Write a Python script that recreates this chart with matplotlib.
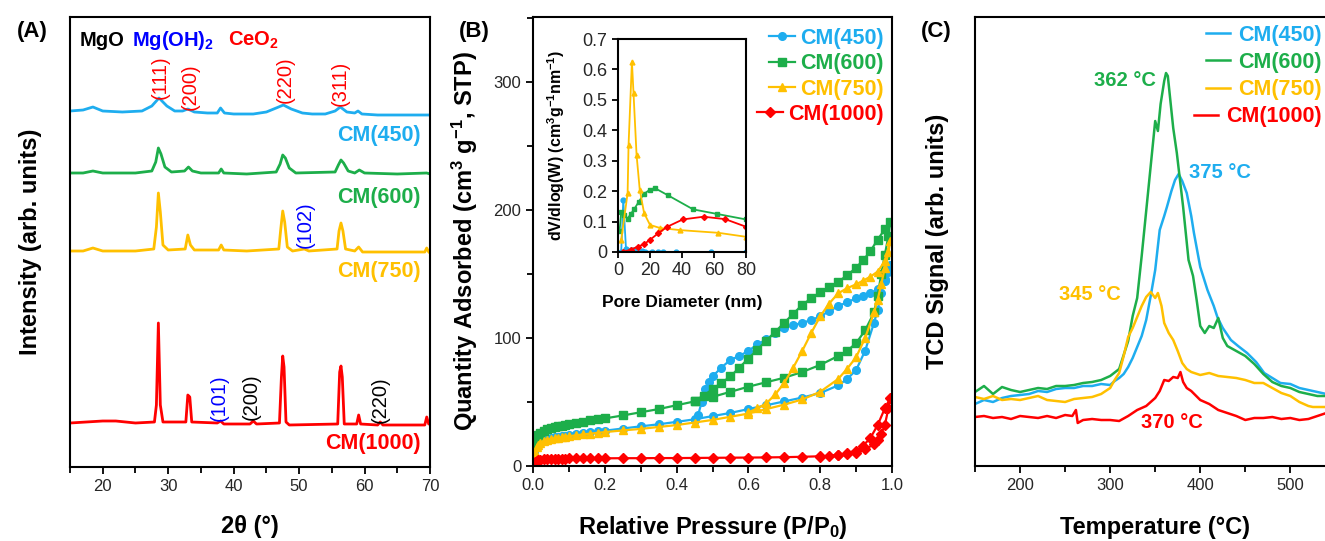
import matplotlib
matplotlib.use("Agg")
import matplotlib.pyplot as plt
from matplotlib.ticker import MultipleLocator, FuncFormatter

plt.rcParams['font.family'] = ['Liberation Sans', 'DejaVu Sans']
plt.rcParams['mathtext.fontset'] = 'custom'
plt.rcParams['mathtext.rm'] = 'Liberation Sans:bold'
plt.rcParams['mathtext.it'] = 'Liberation Sans:bold'
plt.rcParams['mathtext.bf'] = 'Liberation Sans:bold'
plt.rcParams['mathtext.default'] = 'rm'

C_BLUE = '#1EADEF'
C_GREEN = '#1DAE4A'
C_YEL = '#FFC000'
C_RED = '#FF0000'
TICKC = '#262626'

labels = ['CM(450)', 'CM(600)', 'CM(750)', 'CM(1000)']

# ---------------- Panel A: XRD ----------------
xrd450_x = [15, 17, 18.5, 20, 23, 26, 27.5, 28.6, 29.8, 31, 32.2, 33, 34, 36, 37.5, 38, 38.6, 40, 43, 45,
            46.5, 47.6, 48.8, 50.5, 52, 54, 55.5, 56.3, 57.3, 58.5, 59, 59.6, 62, 66, 70]
xrd450_y = [356, 357, 360, 356, 355, 356, 361, 369, 361, 356, 356, 358, 355, 354, 354, 359, 354, 353, 353, 355,
            359, 362, 358, 354, 353, 353, 356, 360, 355, 354, 356, 353, 352, 352, 352]
xrd600_x = [15, 17, 18.5, 20, 25, 27.5, 28.1, 28.5, 28.9, 29.5, 30.5, 32.5, 33.1, 33.7, 35, 37.7, 38.1, 38.5,
            42, 46.5, 47.1, 47.5, 47.9, 48.5, 49.5, 55.5, 56.0, 56.4, 56.8, 57.5, 58.5, 59.2, 60, 65, 69.5, 70]
xrd600_y = [294, 294, 296, 294, 294, 296, 305, 319, 313, 300, 295, 296, 300, 296, 294, 294, 298, 294,
            293, 295, 303, 312, 309, 299, 294, 295, 302, 307, 304, 296, 294, 297, 294, 293, 294, 293]
xrd750_x = [15, 17, 18.5, 20, 25, 27.8, 28.2, 28.5, 28.8, 29.2, 30, 32.6, 33.0, 33.4, 34, 37.7, 38.1, 38.5,
            42, 46.9, 47.2, 47.5, 47.8, 48.2, 49, 50.8, 51.5, 55.8, 56.1, 56.4, 56.7, 57.1, 58.5, 59.1, 59.7,
            65, 69.2, 69.5, 69.8, 70]
xrd750_y = [216, 216, 219, 216, 216, 218, 240, 274, 255, 222, 217, 218, 232, 222, 217, 217, 222, 217,
            216, 218, 238, 256, 245, 220, 216, 218, 216, 218, 236, 244, 236, 218, 216, 220, 215,
            215, 215, 219, 215, 214]
xrd1000_x = [15, 20, 22, 25, 27.9, 28.2, 28.5, 28.8, 29.2, 32.7, 33.0, 33.3, 33.6, 37.5, 38, 38.5, 42.5, 43,
             43.5, 47.0, 47.3, 47.5, 47.7, 48.0, 48.5, 55.9, 56.2, 56.4, 56.6, 56.9, 58.8, 59.1, 59.4, 62.0,
             62.4, 62.8, 69.2, 69.5, 69.8, 70]
xrd1000_y = [44, 46, 46, 44, 45, 62, 144, 62, 45, 45, 72, 70, 45, 44, 46, 43, 43, 46,
             43, 44, 90, 111, 100, 45, 42, 43, 95, 101, 90, 43, 43, 52, 43, 42,
             45, 42, 42, 50, 43, 43]

# ---------------- Panel B: isotherms ----------------
p_ads = [0.002, 0.005, 0.01, 0.015, 0.02, 0.03, 0.04, 0.05, 0.06, 0.07, 0.08, 0.09, 0.10, 0.12, 0.14, 0.16,
         0.18, 0.20, 0.25, 0.30, 0.35, 0.40, 0.45, 0.50, 0.55, 0.60, 0.65, 0.70, 0.75, 0.80, 0.85, 0.875,
         0.90, 0.925, 0.95, 0.96, 0.97, 0.98, 0.99, 0.995]
q450_ads = [10, 13, 16, 17.5, 19, 20.5, 21.3, 22, 22.5, 23, 23.4, 23.8, 24.2, 25, 25.7, 26.4, 27, 27.6, 29.3,
            31, 32.6, 34.5, 36.5, 39, 41.5, 44.5, 47.5, 50.5, 53.5, 57, 63, 68, 75, 90, 112, 122, 135, 146, 152, 157]
q600_ads = [17, 20, 23, 24.5, 26, 27.5, 28.7, 29.6, 30.3, 31, 31.6, 32.2, 32.8, 33.8, 34.7, 35.6, 36.4, 37.2,
            39.5, 42, 44.5, 47.5, 50.5, 54, 58, 62, 65.5, 69, 73.5, 79, 86, 90, 96, 106, 120, 133, 150, 165, 180, 191]
q750_ads = [7, 11, 15, 16.5, 18, 19.5, 20.3, 21, 21.6, 22.1, 22.5, 22.9, 23.3, 24, 24.7, 25.3, 25.9, 26.5,
            27.8, 29, 30.5, 32, 34, 36, 38.5, 41, 44.5, 48, 52, 58, 68, 76, 85, 100, 120, 130, 142, 155, 167, 176]
q1000_ads = [1.5, 3, 4, 4.5, 5, 5.2, 5.4, 5.5, 5.6, 5.7, 5.8, 5.8, 5.9, 5.9, 6, 6, 6, 6, 6.1, 6.1, 6.2, 6.2,
             6.3, 6.4, 6.5, 6.6, 6.7, 6.9, 7.2, 7.6, 8.3, 9, 10.5, 13, 17, 20, 25, 32, 45, 53]

p450_des = [0.98, 0.96, 0.94, 0.92, 0.90, 0.875, 0.85, 0.825, 0.80, 0.775, 0.75, 0.725, 0.70, 0.675, 0.65,
            0.625, 0.60, 0.575, 0.55, 0.525, 0.50, 0.49, 0.48, 0.47, 0.46, 0.45]
q450_des = [145, 138, 135, 133, 131, 128, 125, 121, 117, 114, 112, 110, 108, 104, 99, 95, 90, 86, 83, 77, 70,
            66, 60, 50, 40, 36]
p600_des = [0.98, 0.96, 0.94, 0.92, 0.90, 0.875, 0.85, 0.825, 0.80, 0.775, 0.75, 0.725, 0.70, 0.675, 0.65,
            0.625, 0.60, 0.575, 0.55, 0.525, 0.50, 0.475, 0.45]
q600_des = [185, 177, 168, 161, 155, 149, 144, 140, 136, 131, 126, 119, 112, 105, 98, 91, 84, 77, 70, 65, 60, 55, 51]
p750_des = [0.98, 0.96, 0.94, 0.92, 0.90, 0.875, 0.85, 0.825, 0.80, 0.775, 0.75, 0.725, 0.70, 0.675, 0.65,
            0.625, 0.60]
q750_des = [160, 152, 148, 145, 142, 139, 135, 127, 117, 104, 90, 77, 65, 56, 49, 45, 42]
p1000_des = [0.98, 0.96, 0.94, 0.92, 0.90, 0.875, 0.85, 0.825, 0.80]
q1000_des = [45, 32, 22, 16, 12, 10, 8.5, 7.5, 7]

# ---------------- Inset: pore size distribution ----------------
d450 = [2, 3.3, 5, 8, 10, 12, 15, 17, 21, 25, 28, 36, 58, 80]
v450 = [0.0, 0.171, 0.01, 0.007, 0.005, 0.003, 0.002, 0.001, 0.001, 0.0, 0.0, 0.0, 0.0, 0.0]
d600 = [1, 2, 4, 6, 8, 10, 13, 16, 20, 23, 31, 47, 62, 80]
v600 = [0.07, 0.13, 0.12, 0.11, 0.125, 0.14, 0.165, 0.19, 0.205, 0.21, 0.187, 0.14, 0.125, 0.107]
d750 = [2, 6.0, 6.6, 8.7, 9.7, 11.6, 13.6, 16.3, 20, 26.2, 38.6, 62.8, 80]
v750 = [0.04, 0.193, 0.352, 0.626, 0.522, 0.319, 0.204, 0.128, 0.089, 0.079, 0.072, 0.063, 0.050]
d1000 = [3, 8, 12.2, 16.3, 20, 25, 30.8, 40.5, 53.5, 67, 80]
v1000 = [0.0, 0.008, 0.017, 0.026, 0.04, 0.061, 0.083, 0.107, 0.116, 0.108, 0.083]

# ---------------- Panel C: TPR ----------------
T_g = [150, 160, 170, 180, 190, 200, 210, 220, 230, 240, 250, 260, 270, 280, 290, 300, 310, 320, 325, 330,
       335, 340, 345, 350, 353, 356, 360, 362, 364, 370, 374, 381, 387, 392, 396, 400, 405, 410, 415, 420,
       425, 430, 440, 450, 460, 470, 480, 490, 500, 510, 520, 530, 540, 550]
h_g = [74, 80, 72, 79, 76, 74, 76, 78, 77, 80, 80, 81, 83, 84, 86, 90, 97, 125, 150, 168,
       210, 255, 300, 345, 335, 362, 385, 393, 390, 338, 313, 259, 206, 190, 166, 140, 133, 140, 138, 148,
       128, 120, 115, 110, 102, 92, 84, 80, 78, 74, 72, 70, 70, 68]
T_b = [150, 160, 170, 180, 190, 200, 210, 220, 230, 240, 250, 260, 270, 280, 290, 300, 305, 310, 315, 320,
       325, 330, 335, 340, 345, 350, 355, 360, 363, 368, 372, 376, 380, 385, 390, 393, 400, 408, 415, 419,
       425, 434, 442, 452, 462, 471, 480, 489, 500, 510, 520, 530, 540, 550]
h_b = [62, 66, 64, 68, 70, 71, 72, 75, 74, 77, 78, 78, 80, 80, 82, 81, 85, 88, 92, 99,
       108, 119, 130, 146, 170, 196, 236, 250, 259, 275, 286, 292, 285, 273, 250, 233, 199, 176, 160, 149,
       138, 126, 120, 113, 104, 93, 88, 83, 82, 78, 76, 74, 72, 72]
T_y = [150, 160, 170, 180, 190, 200, 210, 220, 230, 240, 250, 260, 270, 280, 290, 300, 305, 310, 315, 320,
       325, 330, 335, 340, 345, 350, 353, 357, 360, 365, 370, 375, 380, 385, 390, 400, 410, 420, 430, 440,
       450, 460, 470, 480, 490, 500, 510, 520, 525, 530, 540, 550]
h_y = [69, 67, 70, 66, 67, 66, 68, 70, 66, 65, 64, 67, 68, 69, 72, 78, 86, 93, 110, 129,
       138, 149, 160, 169, 174, 168, 173, 160, 143, 133, 126, 115, 103, 97, 94, 91, 93, 90, 89, 88,
       86, 83, 83, 78, 73, 70, 64, 60, 59, 59, 59, 58]
T_r = [150, 160, 170, 180, 190, 200, 210, 220, 230, 240, 250, 258, 262, 264, 270, 280, 290, 300, 310, 320,
       330, 340, 350, 355, 360, 365, 370, 375, 378, 381, 385, 390, 400, 410, 420, 430, 440, 450, 460, 470,
       480, 490, 500, 510, 520, 530, 540, 550]
h_r = [49, 50, 48, 49, 47, 50, 49, 48, 50, 48, 51, 50, 56, 43, 46, 47, 46, 46, 45, 50,
       56, 60, 68, 75, 86, 85, 89, 88, 94, 84, 78, 75, 66, 62, 56, 53, 50, 46, 48, 48,
       49, 47, 48, 46, 47, 50, 53, 52]

W, H = 1325, 541
fig = plt.figure(figsize=(W / 100, H / 100), dpi=100)


def box(l, t, r, b):
    return [l / W, 1 - b / H, (r - l) / W, (b - t) / H]


def style(ax, fs=12):
    for s in ax.spines.values():
        s.set_linewidth(1.5)
        s.set_color('black')
    ax.tick_params(which='both', direction='out', colors='black', labelcolor=TICKC,
                   labelsize=fs, width=1.3)
    ax.tick_params(which='major', length=5)
    ax.tick_params(which='minor', length=4)


def right_align(leg):
    try:
        for col in leg._legend_handle_box.get_children():
            col.align = 'right'
    except Exception:
        pass


LBL = dict(fontsize=17, fontweight='bold')

# ---- A ----
axA = fig.add_axes(box(70, 17, 430, 467))
style(axA)
axA.plot(xrd450_x, xrd450_y, color=C_BLUE, lw=2)
axA.plot(xrd600_x, xrd600_y, color=C_GREEN, lw=2)
axA.plot(xrd750_x, xrd750_y, color=C_YEL, lw=2)
axA.plot(xrd1000_x, xrd1000_y, color=C_RED, lw=2)
axA.set_xlim(15, 70)
axA.set_ylim(0, 450)
axA.set_yticks([])
axA.set_xticks([20, 30, 40, 50, 60, 70])
axA.xaxis.set_minor_locator(MultipleLocator(5))
axA.set_xlabel('2θ (°)', va='center', **LBL)
axA.xaxis.set_label_coords(0.5, -0.133)
axA.set_ylabel('Intensity (arb. units)', va='center', **LBL)
axA.yaxis.set_label_coords(-0.111, 0.5)

hdr = dict(fontsize=14.5, fontweight='bold', va='center', ha='left')
axA.text(16.4, 427, 'MgO', color='black', **hdr)
axA.text(24.5, 427, r'Mg(OH)$_2$', color='#0000FF', **hdr)
axA.text(39.1, 427, r'CeO$_2$', color='#FF0000', **hdr)
hkl = dict(fontsize=14.5, rotation=90, ha='center', va='center')
axA.text(28.8, 390, '(111)', color='#FF0000', **hkl)
axA.text(33.4, 380, '(200)', color='#FF0000', **hkl)
axA.text(47.9, 387, '(220)', color='#FF0000', **hkl)
axA.text(56.3, 384, '(311)', color='#FF0000', **hkl)
axA.text(50.9, 242, '(102)', color='#0000FF', **hkl)
axA.text(37.8, 69, '(101)', color='#0000FF', **hkl)
axA.text(42.7, 70, '(200)', color='black', **hkl)
axA.text(62.4, 67, '(220)', color='black', **hkl)
smp = dict(fontsize=15.5, fontweight='bold', ha='right', va='center')
axA.text(68.6, 332, labels[0], color=C_BLUE, **smp)
axA.text(68.6, 270, labels[1], color=C_GREEN, **smp)
axA.text(68.6, 196, labels[2], color=C_YEL, **smp)
axA.text(68.6, 24, labels[3], color=C_RED, **smp)

# ---- B ----
axB = fig.add_axes(box(533, 17, 892, 466))
style(axB)
mk = dict(lw=1.6, markersize=5.5)
axB.plot(p_ads + p450_des, q450_ads + q450_des, color=C_BLUE, marker='o', label=labels[0], **mk)
axB.plot(p_ads + p600_des, q600_ads + q600_des, color=C_GREEN, marker='s', label=labels[1], **mk)
axB.plot(p_ads + p750_des, q750_ads + q750_des, color=C_YEL, marker='^', label=labels[2], **mk)
axB.plot(p_ads + p1000_des, q1000_ads + q1000_des, color=C_RED, marker='D', label=labels[3],
         lw=1.6, markersize=4.8)
axB.set_xlim(0, 1.0)
axB.set_ylim(0, 351)
axB.set_xticks([0.0, 0.2, 0.4, 0.6, 0.8, 1.0])
axB.xaxis.set_minor_locator(MultipleLocator(0.1))
axB.set_yticks([0, 100, 200, 300])
axB.yaxis.set_minor_locator(MultipleLocator(50))
axB.xaxis.set_major_formatter(FuncFormatter(lambda v, p: f'{v:.1f}'))
axB.set_xlabel(r'Relative Pressure (P/P$_0$)', va='center', **LBL)
axB.xaxis.set_label_coords(0.5, -0.136)
axB.set_ylabel(r'Quantity Adsorbed (cm$^3$ g$^{-1}$, STP)', va='center', **LBL)
axB.yaxis.set_label_coords(-0.189, 0.5)
legB = axB.legend(loc='upper right', bbox_to_anchor=(884 / W, 1 - 28 / H),
                  bbox_transform=fig.transFigure, frameon=False,
                  prop=dict(size=15.5, weight='bold'), labelcolor='linecolor',
                  handlelength=1.2, handletextpad=0.25, labelspacing=0.2,
                  borderaxespad=0, borderpad=0)
right_align(legB)

# ---- inset ----
axI = fig.add_axes(box(618, 39, 746, 252))
style(axI, fs=13)
axI.tick_params(which='major', length=4)
im = dict(lw=1.3, markersize=3.5)
axI.plot(d450, v450, color=C_BLUE, marker='o', **im)
axI.plot(d600, v600, color=C_GREEN, marker='s', **im)
axI.plot(d750, v750, color=C_YEL, marker='^', **im)
axI.plot(d1000, v1000, color=C_RED, marker='D', lw=1.3, markersize=3)
axI.set_xlim(0, 80)
axI.set_ylim(0, 0.7)
axI.set_xticks([0, 20, 40, 60, 80])
axI.set_yticks([0, 0.1, 0.2, 0.3, 0.4, 0.5, 0.6, 0.7])
axI.yaxis.set_major_formatter(FuncFormatter(lambda v, p: '0' if abs(v) < 1e-9 else f'{v:.1f}'))
axI.set_xlabel('Pore Diameter (nm)', va='center', fontsize=12.5, fontweight='bold')
axI.xaxis.set_label_coords(0.5, -0.235)
axI.set_ylabel(r'dV/dlog(W) (cm$^3$g$^{-1}$nm$^{-1}$)', va='center', fontsize=11.5, fontweight='bold')
axI.yaxis.set_label_coords(-0.48, 0.5)

# ---- C ----
axC = fig.add_axes(box(975, 17, 975 + 400 * 0.901, 466))
style(axC)
axC.spines['right'].set_visible(False)
axC.plot(T_b, h_b, color=C_BLUE, lw=1.8, label=labels[0])
axC.plot(T_g, h_g, color=C_GREEN, lw=1.8, label=labels[1])
axC.plot(T_y, h_y, color=C_YEL, lw=1.8, label=labels[2])
axC.plot(T_r, h_r, color=C_RED, lw=1.8, label=labels[3])
axC.set_xlim(150, 550)
axC.set_ylim(0, 449)
axC.set_yticks([])
axC.set_xticks([200, 300, 400, 500])
axC.xaxis.set_minor_locator(MultipleLocator(50))
axC.set_xlabel('Temperature (°C)', va='center', **LBL)
axC.xaxis.set_label_coords(0.5, -0.136)
axC.set_ylabel('TCD Signal (arb. units)', va='center', **LBL)
axC.yaxis.set_label_coords(-0.105, 0.5)
ann = dict(fontsize=14.5, fontweight='bold', ha='center', va='center')
axC.text(316.5, 386, '362 °C', color=C_GREEN, **ann)
axC.text(422, 293, '375 °C', color=C_BLUE, **ann)
axC.text(277.6, 171, '345 °C', color=C_YEL, **ann)
axC.text(368.6, 43, '370 °C', color=C_RED, **ann)
legC = axC.legend(loc='upper right', bbox_to_anchor=(1322 / W, 1 - 25 / H),
                  bbox_transform=fig.transFigure, frameon=False,
                  prop=dict(size=15.5, weight='bold'), labelcolor='linecolor',
                  handlelength=1.1, handletextpad=0.4, labelspacing=0.28,
                  borderaxespad=0, borderpad=0)
right_align(legC)

# ---- panel letters ----
pl = dict(fontsize=16, fontweight='bold', ha='center', va='center')
fig.text(32 / W, 1 - 32 / H, '(A)', **pl)
fig.text(474 / W, 1 - 32 / H, '(B)', **pl)
fig.text(936 / W, 1 - 32 / H, '(C)', **pl)

fig.savefig('out.png', dpi=100)
